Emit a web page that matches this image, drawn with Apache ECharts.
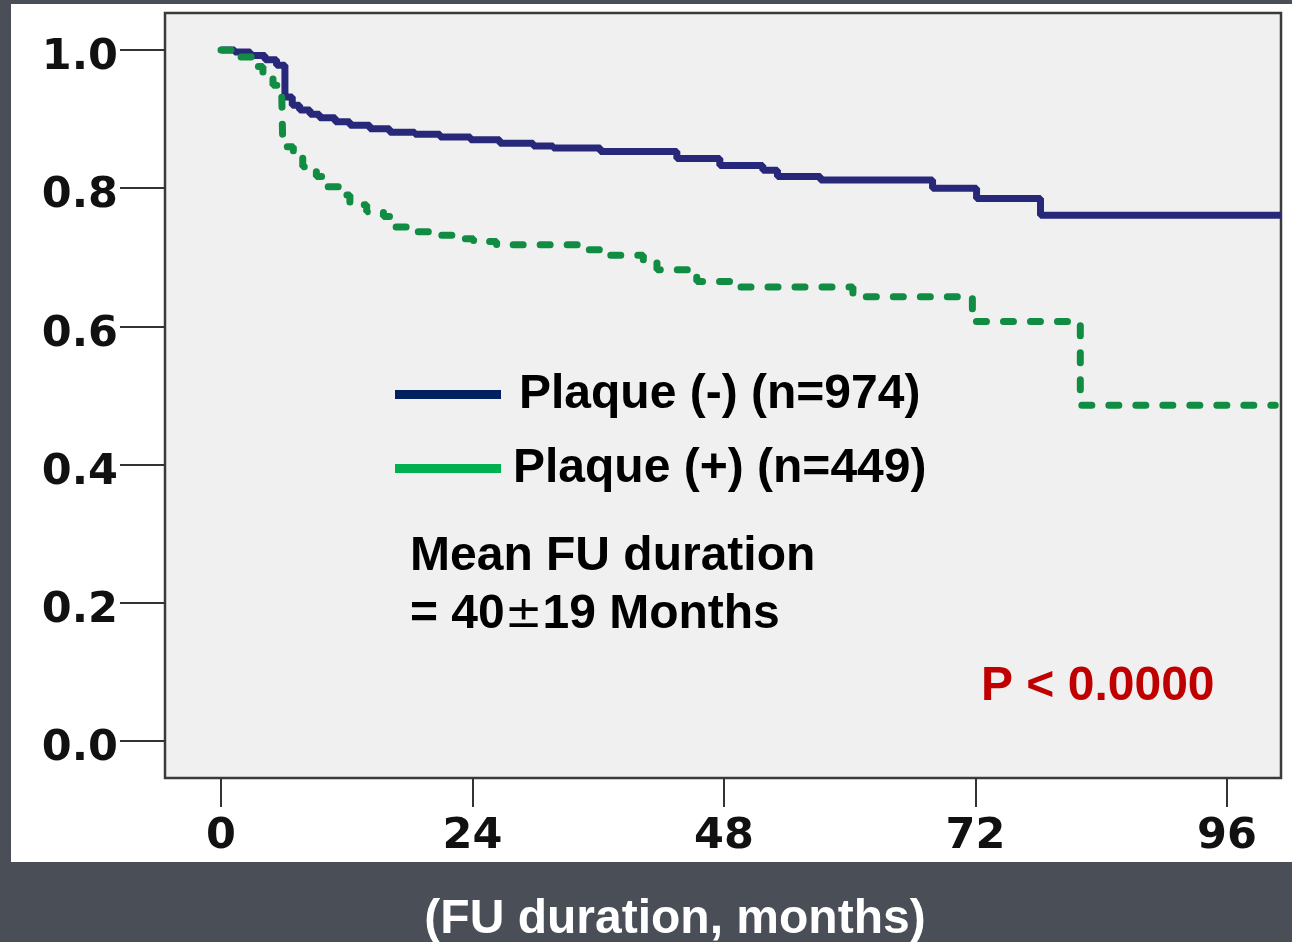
<!DOCTYPE html>
<html>
<head>
<meta charset="utf-8">
<script src="https://cdn.jsdelivr.net/npm/echarts@6/dist/echarts.min.js"></script>
<style>
html,body{margin:0;padding:0;background:#4a4e57;}
#chart{width:1292px;height:942px;}
</style>
</head>
<body>
<div id="chart"></div>
<script>
// ---- data ----
const seriesNames = ['Plaque (-) (n=974)', 'Plaque (+) (n=449)'];
const xTicks = [0, 24, 48, 72, 96];
const yTicks = [0, 0.2, 0.4, 0.6, 0.8, 1.0];
// Kaplan-Meier survival, [month, survival]
const plaqueNeg = [
  [0,1.0],[1.3,0.997],[2.8,0.992],[4.2,0.986],[5.3,0.978],[6.1,0.932],
  [6.8,0.920],[7.5,0.913],[8.5,0.907],[9.4,0.902],[10.9,0.896],[12.3,0.891],
  [14.2,0.886],[16.1,0.881],[18.5,0.878],[20.9,0.874],[23.8,0.870],[26.6,0.865],
  [29.8,0.861],[31.7,0.858],[36.2,0.853],[43.5,0.843],[47.6,0.833],[51.7,0.826],
  [53.1,0.817],[57.2,0.812],[67.9,0.800],[72.1,0.785],[78.2,0.761],[101.15,0.761]
];
const plaquePos = [
  [0,1.0],[1.5,0.990],[3.05,0.976],[4.0,0.961],[4.96,0.949],[5.8,0.932],[5.9,0.860],
  [6.9,0.846],[7.8,0.831],[9.1,0.817],[10.1,0.802],[11.4,0.790],[12.3,0.776],
  [13.9,0.766],[15.5,0.759],[16.4,0.744],[18.0,0.737],[20.3,0.732],[22.5,0.727],
  [24.1,0.723],[26.3,0.718],[34.5,0.711],[36.5,0.703],[40.3,0.695],[41.6,0.682],
  [45.4,0.665],[48.9,0.657],[60.3,0.643],[71.7,0.607],[82.0,0.486],[100.6,0.486]
];
const annotMean1 = 'Mean FU duration';
const annotMean2 = ['= 40', '\u00B1', '19 Months'];
const annotP = 'P < 0.0000';
const xTitle = '(FU duration, months)';

const chart = echarts.init(document.getElementById('chart'));
const tickFont = {fontFamily:'DejaVu Sans', fontWeight:'bold', fontSize:43, color:'#111'};
const textFont = 'Liberation Sans, Arial, sans-serif';

chart.setOption({
  backgroundColor:'#4a4e57',
  animation:false,
  graphic:[
    {type:'rect', z:-10, shape:{x:11,y:4,width:1281,height:858}, style:{fill:'#ffffff'}},
    {type:'text', z:10, style:{x:410,y:557,text:annotMean1,fontFamily:textFont,fontWeight:'bold',fontSize:48,fill:'#000',verticalAlign:'middle'}},
    {type:'text', z:10, style:{x:410,y:615,
      text:'{a|'+annotMean2[0]+'}{pm|'+annotMean2[1]+'}{a|'+annotMean2[2]+'}',
      verticalAlign:'middle',
      rich:{
        a:{fontFamily:textFont,fontWeight:'bold',fontSize:48,fill:'#000',color:'#000'},
        pm:{fontFamily:'DejaVu Sans',fontWeight:'normal',fontSize:45,fill:'#000',color:'#000'}
      }}},
    {type:'text', z:10, style:{x:981,y:687,text:annotP,fontFamily:textFont,fontWeight:'bold',fontSize:48,fill:'#c00000',verticalAlign:'middle'}},
    {type:'text', z:10, style:{x:675,y:920,text:xTitle,fontFamily:textFont,fontWeight:'bold',fontSize:48,fill:'#ffffff',align:'center',verticalAlign:'middle'}}
  ],
  grid:{left:165,right:11,top:13,bottom:164,show:true,backgroundColor:'#f0f0f0',borderColor:'#3a3a3a',borderWidth:2.5},
  legend:{
    orient:'vertical', left:390, top:365.5, itemWidth:106, itemHeight:9, itemGap:26, icon:'rect',
    selectedMode:false,
    itemStyle:{borderWidth:0},
    textStyle:{fontFamily:textFont,fontWeight:'bold',fontSize:48,color:'#000',lineHeight:48},
    data:[
      {name:seriesNames[0], itemStyle:{color:'#00205f'}, textStyle:{padding:[0,0,0,13]}},
      {name:seriesNames[1], itemStyle:{color:'#00b050'}, textStyle:{padding:[0,0,0,7]}}
    ]
  },
  xAxis:{
    type:'value', min:-5.344, max:101.15,
    axisLine:{show:false, onZero:false},
    splitLine:{show:false},
    axisTick:{show:true, length:29, lineStyle:{color:'#333',width:2}, customValues:xTicks},
    axisLabel:{customValues:xTicks, margin:37, ...tickFont}
  },
  yAxis:{
    type:'value', min:-0.0535, max:1.0535,
    axisLine:{show:false, onZero:false},
    splitLine:{show:false},
    axisTick:{show:true, length:45, lineStyle:{color:'#333',width:2}, customValues:yTicks},
    axisLabel:{customValues:yTicks, margin:47,
      formatter:v=>'{v|'+v.toFixed(1)+'}',
      rich:{v:{...tickFont, padding:[16,0,0,0]}},
      ...tickFont}
  },
  series:[
    {name:seriesNames[0], type:'line', step:'end', data:plaqueNeg, symbol:'none', color:'#28287a',
     lineStyle:{color:'#28287a', width:7}, z:2},
    {name:seriesNames[1], type:'line', step:'end', data:plaquePos, symbol:'none', color:'#108c43',
     lineStyle:{color:'#108c43', width:7, type:[10,17], cap:'round'}, z:3}
  ]
});
</script>
</body>
</html>
